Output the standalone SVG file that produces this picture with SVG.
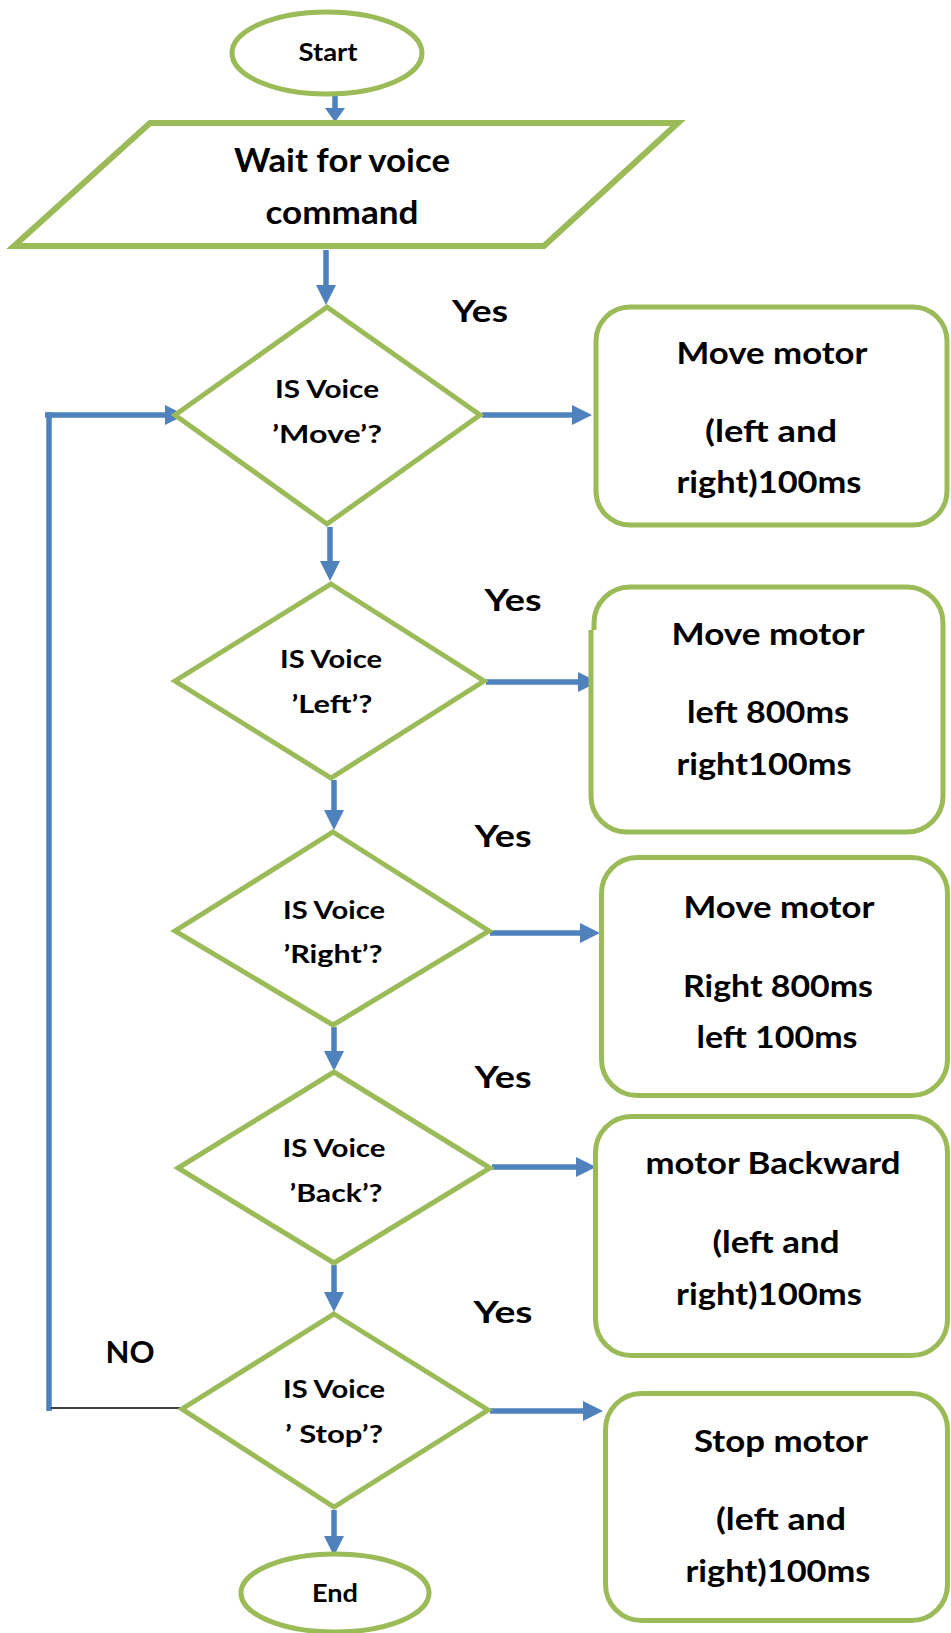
<svg xmlns="http://www.w3.org/2000/svg" width="951" height="1633" viewBox="0 0 951 1633">
<defs>
<style>
.shape{fill:#fff;stroke:#9BBB59;stroke-width:5;stroke-linejoin:miter;stroke-miterlimit:10}
.para{fill:#fff;stroke:#9BBB59;stroke-width:6}
.conn{fill:none;stroke:#4F81BD;stroke-width:5.5}
.t{font-family:Lato,"Liberation Sans",sans-serif;font-weight:bold;fill:#000;text-anchor:middle}
.d{font-size:25.5px}
.b{font-size:29.5px}
.y{font-size:31px}
</style>
<marker id="ah" viewBox="0 0 20 20" refX="8" refY="10" markerWidth="20" markerHeight="20" markerUnits="userSpaceOnUse" orient="auto">
<path d="M0,0 L20,10 L0,20 z" fill="#4F81BD"/>
</marker>
<marker id="ahs" viewBox="0 0 14 20" refX="6" refY="10" markerWidth="14" markerHeight="20" markerUnits="userSpaceOnUse" orient="auto">
<path d="M0,0 L14,10 L0,20 z" fill="#4F81BD"/>
</marker>
</defs>
<rect width="951" height="1633" fill="#fff"/>

<g id="connectors">
<line class="conn" x1="335" y1="96" x2="335" y2="114" marker-end="url(#ahs)"/>
<line class="conn" x1="326" y1="250" x2="326" y2="293" marker-end="url(#ah)"/>
<line class="conn" x1="482" y1="415" x2="580" y2="415" marker-end="url(#ah)"/>
<polyline class="conn" points="49,1411 49,415 173,415" marker-end="url(#ah)"/>
<line class="conn" x1="45" y1="415" x2="52" y2="415"/>
<line x1="51" y1="1408" x2="185" y2="1408" stroke="#000" stroke-width="1.6"/>
<line class="conn" x1="330" y1="527" x2="330" y2="569" marker-end="url(#ah)"/>
<line class="conn" x1="486" y1="682" x2="586" y2="682" marker-end="url(#ah)"/>
<line class="conn" x1="334" y1="780" x2="334" y2="818" marker-end="url(#ah)"/>
<line class="conn" x1="490" y1="933" x2="588" y2="933" marker-end="url(#ah)"/>
<line class="conn" x1="334" y1="1027" x2="334" y2="1059" marker-end="url(#ah)"/>
<line class="conn" x1="492" y1="1167" x2="584" y2="1167" marker-end="url(#ah)"/>
<line class="conn" x1="334" y1="1265" x2="334" y2="1300" marker-end="url(#ah)"/>
<line class="conn" x1="490" y1="1411" x2="591" y2="1411" marker-end="url(#ah)"/>
<line class="conn" x1="334" y1="1510" x2="334" y2="1544" marker-end="url(#ah)"/>
</g>

<g id="start">
<ellipse class="shape" cx="327" cy="53" rx="95" ry="41"/>
<text class="t" x="328" y="61" font-size="25.5" textLength="59" lengthAdjust="spacingAndGlyphs">Start</text>
</g>

<g id="wait">
<polygon class="para" points="150,123 678,123 544,246 14,246"/>
<text class="t" x="342" y="172" font-size="33" textLength="216" lengthAdjust="spacingAndGlyphs">Wait for voice</text>
<text class="t" x="342" y="224" font-size="33" textLength="153" lengthAdjust="spacingAndGlyphs">command</text>
</g>

<g id="d-move">
<polygon class="shape" points="327,307 480,415 327,524 175,415"/>
<text class="t d" x="327" y="398" textLength="104" lengthAdjust="spacingAndGlyphs">IS Voice</text>
<text class="t d" x="327" y="443" textLength="110" lengthAdjust="spacingAndGlyphs">’Move’?</text>
</g>

<g id="d-left">
<polygon class="shape" points="331,584 484,681 331,778 175,681"/>
<text class="t d" x="331" y="668" textLength="102" lengthAdjust="spacingAndGlyphs">IS Voice</text>
<text class="t d" x="332" y="713" textLength="81" lengthAdjust="spacingAndGlyphs">’Left’?</text>
</g>

<g id="d-right">
<polygon class="shape" points="333,832 489,931 333,1025 175,931"/>
<text class="t d" x="334" y="919" textLength="102" lengthAdjust="spacingAndGlyphs">IS Voice</text>
<text class="t d" x="333" y="963" textLength="99" lengthAdjust="spacingAndGlyphs">’Right’?</text>
</g>

<g id="d-back">
<polygon class="shape" points="334,1072 490,1168 334,1263 178,1168"/>
<text class="t d" x="334" y="1157" textLength="103" lengthAdjust="spacingAndGlyphs">IS Voice</text>
<text class="t d" x="336" y="1202" textLength="93" lengthAdjust="spacingAndGlyphs">’Back’?</text>
</g>

<g id="d-stop">
<polygon class="shape" points="334,1314 488,1410 334,1507 182,1409"/>
<text class="t d" x="334" y="1398" textLength="102" lengthAdjust="spacingAndGlyphs">IS Voice</text>
<text class="t d" x="334" y="1443" textLength="98" lengthAdjust="spacingAndGlyphs">’ Stop’?</text>
</g>

<g id="end">
<ellipse class="shape" cx="335" cy="1593" rx="94" ry="39"/>
<text class="t" x="335" y="1602" font-size="25.5" textLength="46" lengthAdjust="spacingAndGlyphs">End</text>
</g>

<g id="box-move">
<rect class="shape" x="596" y="307" width="351" height="218" rx="34"/>
<text class="t b" x="772" y="364" textLength="191" lengthAdjust="spacingAndGlyphs">Move motor</text>
<text class="t b" x="771" y="442" textLength="132" lengthAdjust="spacingAndGlyphs">(left and</text>
<text class="t b" x="769" y="493" textLength="185" lengthAdjust="spacingAndGlyphs">right)100ms</text>
</g>

<g id="box-left">
<path class="shape" d="M594,630 V623 A36,36 0 0 1 630,587 H907 A36,36 0 0 1 943,623 V796 A36,36 0 0 1 907,832 H627 A36,36 0 0 1 591,796 V630"/>
<text class="t b" x="768" y="645" textLength="193" lengthAdjust="spacingAndGlyphs">Move motor</text>
<text class="t b" x="768" y="723" textLength="162" lengthAdjust="spacingAndGlyphs">left 800ms</text>
<text class="t b" x="764" y="775" textLength="175" lengthAdjust="spacingAndGlyphs">right100ms</text>
</g>

<g id="box-right">
<rect class="shape" x="601.5" y="857.5" width="346" height="238" rx="36"/>
<text class="t b" x="779" y="918" textLength="191" lengthAdjust="spacingAndGlyphs">Move motor</text>
<text class="t b" x="778" y="997" textLength="190" lengthAdjust="spacingAndGlyphs">Right 800ms</text>
<text class="t b" x="777" y="1048" textLength="161" lengthAdjust="spacingAndGlyphs">left 100ms</text>
</g>

<g id="box-back">
<rect class="shape" x="595.5" y="1116.5" width="352" height="239" rx="36"/>
<text class="t b" x="773" y="1174" textLength="255" lengthAdjust="spacingAndGlyphs">motor Backward</text>
<text class="t b" x="776" y="1253" textLength="127" lengthAdjust="spacingAndGlyphs">(left and</text>
<text class="t b" x="769" y="1305" textLength="186" lengthAdjust="spacingAndGlyphs">right)100ms</text>
</g>

<g id="box-stop">
<rect class="shape" x="605.5" y="1393.5" width="342" height="227" rx="36"/>
<text class="t b" x="781" y="1452" textLength="174" lengthAdjust="spacingAndGlyphs">Stop motor</text>
<text class="t b" x="781" y="1530" textLength="130" lengthAdjust="spacingAndGlyphs">(left and</text>
<text class="t b" x="778" y="1582" textLength="185" lengthAdjust="spacingAndGlyphs">right)100ms</text>
</g>

<g id="labels">
<text class="t y" x="480" y="322" textLength="56" lengthAdjust="spacingAndGlyphs">Yes</text>
<text class="t y" x="513" y="611" textLength="57" lengthAdjust="spacingAndGlyphs">Yes</text>
<text class="t y" x="503" y="847" textLength="57" lengthAdjust="spacingAndGlyphs">Yes</text>
<text class="t y" x="503" y="1088" textLength="57" lengthAdjust="spacingAndGlyphs">Yes</text>
<text class="t y" x="503" y="1323" textLength="59" lengthAdjust="spacingAndGlyphs">Yes</text>
<text class="t y" x="130" y="1363" textLength="49" lengthAdjust="spacingAndGlyphs">NO</text>
</g>
</svg>
